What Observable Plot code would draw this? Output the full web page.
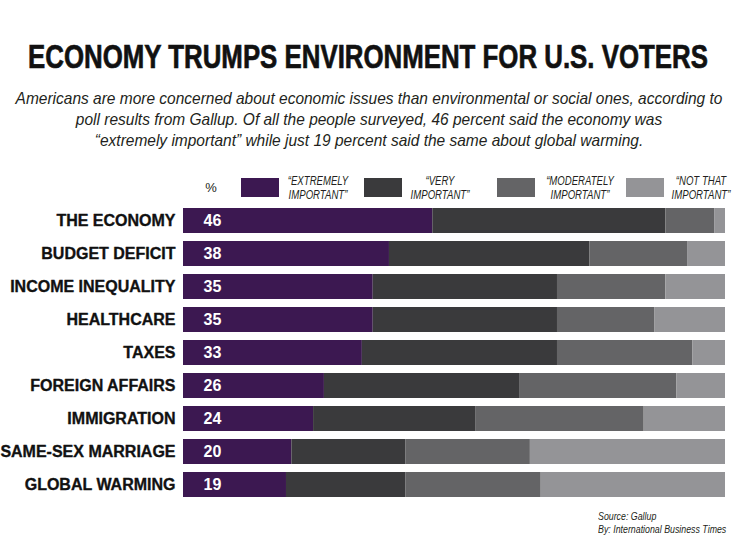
<!DOCTYPE html>
<html><head><meta charset="utf-8">
<script src="https://cdn.jsdelivr.net/npm/d3@7"></script>
<script src="https://cdn.jsdelivr.net/npm/@observablehq/plot@0.6"></script>
<style>
body{margin:0;background:#fff;}
#page{position:relative;width:736px;height:545px;overflow:hidden;background:#fff;font-family:"Liberation Sans",Arial,sans-serif;color:#231f20;}
.abs{position:absolute;white-space:nowrap;display:inline-block;transform-origin:50% 50%;}
.title{font-family:"Liberation Sans Narrow","Liberation Sans",sans-serif;font-weight:bold;font-size:34px;line-height:34px;color:#111;-webkit-text-stroke:0.7px #111;}
.sub{font-family:"Liberation Sans Narrow","Liberation Sans",sans-serif;font-style:italic;font-size:17px;line-height:21px;color:#231f20;}
.leg{font-family:"Liberation Sans Narrow","Liberation Sans",sans-serif;font-style:italic;font-size:13.5px;line-height:14px;color:#231f20;text-align:center;}
.sw{position:absolute;}
.foot{font-family:"Liberation Sans Narrow","Liberation Sans",sans-serif;font-style:italic;font-size:11.5px;line-height:13px;color:#231f20;transform-origin:0 50%;}
#chart{position:absolute;left:0;top:190px;}
</style></head><body><div id="page"><div id="chart"></div></div>
<script>
const title = "ECONOMY TRUMPS ENVIRONMENT FOR U.S. VOTERS";
const subtitleLines = [
  "Americans are more concerned about economic issues than environmental or social ones, according to",
  "poll results from Gallup. Of all the people surveyed, 46 percent said the economy was",
  "“extremely important” while just 19 percent said the same about global warming."
];
const categories = ["THE ECONOMY","BUDGET DEFICIT","INCOME INEQUALITY","HEALTHCARE","TAXES","FOREIGN AFFAIRS","IMMIGRATION","SAME-SEX MARRIAGE","GLOBAL WARMING"];
const extremely  = [46, 38, 35, 35, 33, 26, 24, 20, 19];
const very       = [43, 37, 34, 34, 36, 36, 30, 21, 22];
const moderately = [ 9, 18, 20, 18, 25, 29, 31, 23, 25];
const notThat    = [ 2,  7, 11, 13,  6,  9, 15, 36, 34];
const levels = ["Extremely important","Very important","Moderately important","Not that important"];
const levelLabelLines = [["“EXTREMELY","IMPORTANT”"],["“VERY","IMPORTANT”"],["“MODERATELY","IMPORTANT”"],["“NOT THAT","IMPORTANT”"]];
const colors = ["#3c1851","#3a3a3c","#646466","#949497"];
const unitLabel = "%";
const sourceLines = ["Source:  Gallup","By:  International Business Times"];

const page = document.getElementById("page");
function add(cls, text, left, top){
  const s = document.createElement("span");
  s.className = "abs " + cls;
  s.textContent = text;
  s.style.left = left + "px";
  s.style.top = top + "px";
  page.appendChild(s);
  return s;
}
// Title
const tEl = add("title", title, 368, 39);
// Subtitle
const subEls = subtitleLines.map((t,i)=>add("sub", t, 369, 88 + i*21));
// Legend
const swX = [241, 364, 497, 626];
const labCx = [318, 440, 580, 701];
const pct = add("leg", unitLabel, 211, 181);
pct.style.fontStyle = "normal"; pct.style.fontSize = "13px";
const legEls = [];
levels.forEach((lv,j)=>{
  const sw = document.createElement("div");
  sw.className = "sw";
  Object.assign(sw.style,{left:swX[j]+"px",top:"178px",width:"38px",height:"19px",background:colors[j]});
  page.appendChild(sw);
  levelLabelLines[j].forEach((ln,k)=>legEls.push(add("leg", ln, labCx[j], 174 + k*14)));
});
// Footer
const footEls = sourceLines.map((t,i)=>add("foot", t, 598, 510 + i*13));

function center(el, s){
  el.style.transform = `translateX(-50%) scaleX(${s})`;
}
function layout(){
  const tw = tEl.offsetWidth; center(tEl, 680/tw);
  const sw = subEls[0].offsetWidth; const ss = 707/sw;
  subEls.forEach(e=>center(e, ss));
  const lw = legEls[1].offsetWidth; const ls = 59/lw;
  legEls.forEach(e=>center(e, ls));
  pct.style.transform = "translateX(-50%)";
  const fw = footEls[1].offsetWidth; const fs = 128/fw;
  footEls.forEach(e=>e.style.transform = `scaleX(${fs})`);
}
layout();
if (document.fonts && document.fonts.ready) document.fonts.ready.then(layout);

// Chart
const rows = categories.flatMap((c,i)=>[extremely[i],very[i],moderately[i],notThat[i]].map((v,j)=>({category:c, level:levels[j], value:v})));
const firstSeries = categories.map((c,i)=>({category:c, value:extremely[i]}));

const chart = Plot.plot({
  width: 736,
  height: 319,
  marginTop: 7,
  marginBottom: 2,
  marginLeft: 183,
  marginRight: 11,
  style: {fontFamily: "'Liberation Sans', Arial, sans-serif", background: "transparent", overflow: "visible"},
  x: {domain: [0, 100], axis: null},
  y: {domain: categories, padding: 0.25, axis: null},
  color: {domain: levels, range: colors},
  marks: [
    Plot.barX(rows, {x: "value", y: "category", fill: "level"}),
    Plot.text(categories, {y: d=>d, text: d=>d, frameAnchor: "left", textAnchor: "end", dx: -8, fontSize: 16, fontWeight: "bold", fill: "#111", stroke: "#111", strokeWidth: 0.35}),
    Plot.text(firstSeries, {y: "category", text: d=>String(d.value), frameAnchor: "left", textAnchor: "start", dx: 20, fontSize: 16, fontWeight: "bold", fill: "white"})
  ]
});
document.getElementById("chart").appendChild(chart);
</script>
</body></html>
